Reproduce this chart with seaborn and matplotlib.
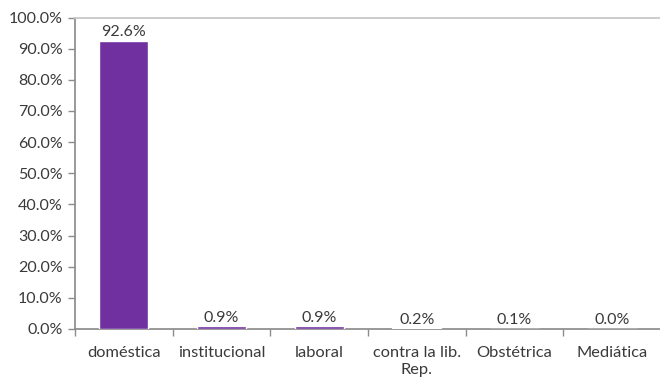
import matplotlib
matplotlib.use("Agg")
import matplotlib.pyplot as plt
import seaborn as sns
import pandas as pd
from matplotlib.ticker import FuncFormatter, MultipleLocator

categories = ["doméstica", "institucional", "laboral", "contra la lib.\nRep.", "Obstétrica", "Mediática"]
values = [92.6, 0.9, 0.9, 0.2, 0.1, 0.0]
value_labels = ["92.6%", "0.9%", "0.9%", "0.2%", "0.1%", "0.0%"]

df = pd.DataFrame({"tipo": categories, "pct": values})

sns.set_theme(style="white")
plt.rcParams["font.family"] = ["Lato", "DejaVu Sans"]

fig = plt.figure(figsize=(6.6, 3.81), dpi=100)
ax = fig.add_axes([75 / 660, 1 - 329 / 381, 586 / 660, (329 - 17.5) / 381])

sns.barplot(data=df, x="tipo", y="pct", color="#7030A0", width=0.5,
            saturation=1, ax=ax, zorder=3)

ax.set_xlim(-0.5, 5.5)
ax.set_ylim(0, 100)
ax.yaxis.set_major_locator(MultipleLocator(10))
ax.yaxis.set_major_formatter(FuncFormatter(lambda v, _: f"{v:.1f}%"))
ax.set_xlabel("")
ax.set_ylabel("")

grey = "#8c8c8c"
text_col = "#3a3a3a"
fs_y = 11.5
fs_x = 11.8
ax.spines["right"].set_visible(False)
ax.spines["top"].set_color("#c8c8c8")
ax.spines["top"].set_linewidth(1.3)
ax.spines["left"].set_color(grey)
ax.spines["bottom"].set_color(grey)

# category boundaries carry the x ticks
ax.set_xticks([i + 0.5 for i in range(-1, 6)], minor=False)
ax.set_xticklabels([])
ax.set_xticks(range(6), minor=True)
ax.set_xticklabels(categories, minor=True, linespacing=1.3)
ax.tick_params(axis="x", which="major", direction="out", length=5, color=grey, width=1)
ax.tick_params(axis="x", which="minor", length=0, pad=12, labelsize=fs_x, labelcolor=text_col)
ax.tick_params(axis="y", direction="out", length=5, color=grey, width=1,
               labelsize=fs_y, labelcolor=text_col, pad=4)
ax.tick_params(bottom=True, left=True)

for i, (v, lab) in enumerate(zip(values, value_labels)):
    ax.text(i, v + 0.5, lab, ha="center", va="bottom", fontsize=fs_y, color=text_col)

fig.savefig("out.png", dpi=100)
